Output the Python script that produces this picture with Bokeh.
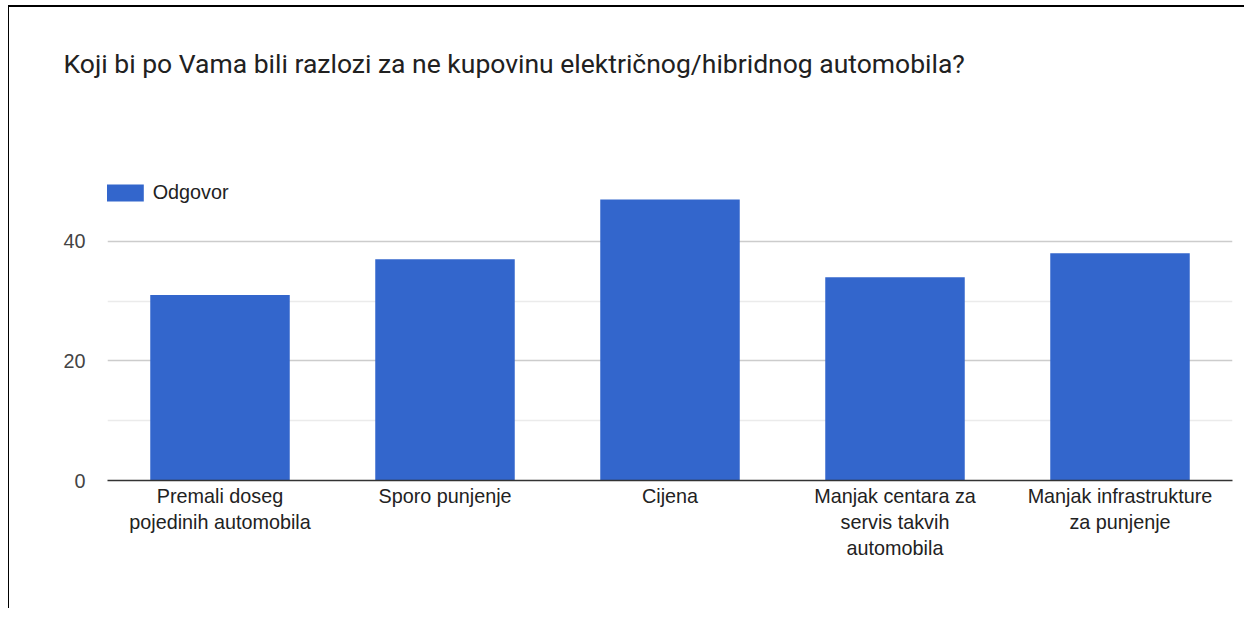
from bokeh.plotting import figure
from bokeh.models import ColumnDataSource, FixedTicker, Legend, LegendItem, Title
from bokeh.embed import file_html
from bokeh.resources import INLINE

title_text = "Koji bi po Vama bili razlozi za ne kupovinu električnog/hibridnog automobila?"
categories = [
    "Premali doseg\npojedinih automobila",
    "Sporo punjenje",
    "Cijena",
    "Manjak centara za\nservis takvih\nautomobila",
    "Manjak infrastrukture\nza punjenje",
]
values = [31, 37, 47, 34, 38]
series_name = "Odgovor"
y_major_ticks = [0, 20, 40]
y_minor_ticks = [10, 30, 50]

BAR = "#3366cc"
LABEL_FONT = "Liberation Sans"

source = ColumnDataSource(dict(cat=categories, val=values))

p = figure(
    x_range=categories, y_range=(0, 50),
    width=1236, height=603,
    output_backend="svg", toolbar_location=None,
    min_border_left=98, min_border_right=13, min_border_top=174, min_border_bottom=130,
    background_fill_color="white", border_fill_color="white",
    outline_line_color=None,
)
p.styles = {"border-top": "2px solid black", "border-left": "1px solid black",
            "margin-top": "5px", "margin-left": "8px"}

r = p.vbar(x="cat", top="val", width=0.62, source=source, fill_color=BAR, line_color=None)

# spacer between title and plot area (added first = closest to the frame)
p.add_layout(Title(text=" ", text_font_size="1px", standoff=59), "above")
p.add_layout(Title(text=title_text, text_font="Roboto", text_font_size="26.5px",
                   text_font_style="normal", text_color="#212121", align="left",
                   offset=-44, standoff=78, vertical_align="top"), "above")

# axes
p.xaxis.axis_line_color = "#333333"
p.xaxis.axis_line_width = 1.5
p.xaxis.major_tick_line_color = None
p.xaxis.minor_tick_line_color = None
p.xaxis.major_tick_out = 0
p.xaxis.major_label_text_font = LABEL_FONT
p.xaxis.major_label_text_font_size = "19.8px"
p.xaxis.major_label_text_color = "#222222"
p.xaxis.major_label_text_line_height = 1.2
p.xaxis.major_label_standoff = 4

p.yaxis.ticker = FixedTicker(ticks=y_major_ticks, minor_ticks=y_minor_ticks)
p.yaxis.axis_line_color = None
p.yaxis.major_tick_line_color = None
p.yaxis.minor_tick_line_color = None
p.yaxis.major_tick_out = 0
p.yaxis.major_label_text_font = LABEL_FONT
p.yaxis.major_label_text_font_size = "19.8px"
p.yaxis.major_label_text_color = "#444444"
p.yaxis.major_label_standoff = 18

p.xgrid.grid_line_color = None
p.ygrid.grid_line_color = "#cccccc"
p.ygrid.grid_line_width = 1.5
p.ygrid.minor_grid_line_color = "#ebebeb"
p.ygrid.minor_grid_line_width = 1.5

legend = Legend(items=[LegendItem(label=series_name, renderers=[r])],
                location=(-6.3, 276))
legend.margin = 0
legend.padding = 0
legend.glyph_width = 47
legend.glyph_height = 21
legend.label_standoff = 5
legend.label_text_font = LABEL_FONT
legend.label_text_font_size = "19.8px"
legend.label_text_color = "#222222"
legend.border_line_color = None
legend.background_fill_alpha = 0
p.add_layout(legend)

open("out.html", "w").write(file_html(p, INLINE))
